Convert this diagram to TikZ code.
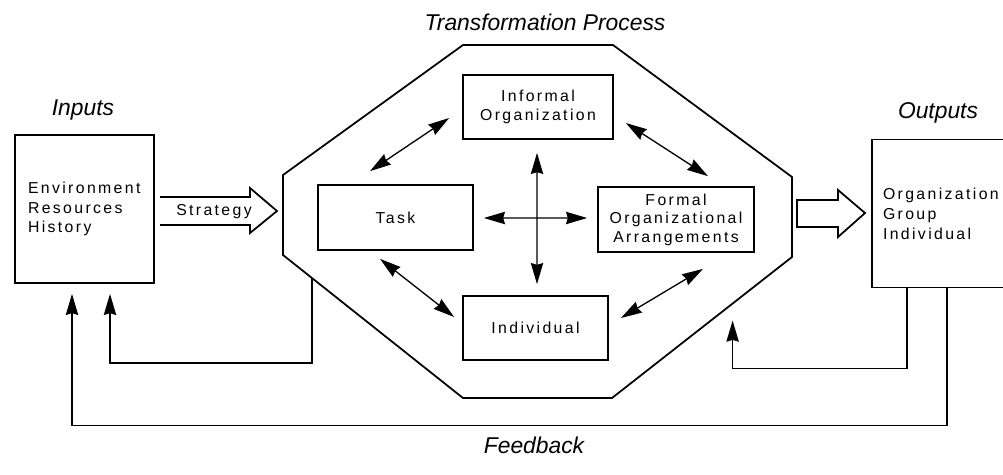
\documentclass[tikz,border=0pt]{standalone}
\usepackage{fontspec}
\setmainfont{Liberation Sans}
\newfontfamily\BoiteFont{Liberation Sans}[LetterSpace=15]
\usetikzlibrary{calc}
\usetikzlibrary{arrows.meta}

\begin{document}
\begin{tikzpicture}[x=0.02cm,y=-0.02cm,
    boite/.style={draw,line width=1pt,inner sep=0pt,align=center,
        font={\BoiteFont\fontsize{9}{10.5}\selectfont}},
    grande/.style={boite,minimum width=2.9cm,minimum height=2.96cm,align=left,
        font={\BoiteFont\fontsize{9}{11.3}\selectfont}},
    titre/.style={font={\itshape\fontsize{13}{15}\selectfont}},
    pointe/.tip={Stealth[length=12pt,width=7pt,inset=1pt]},
    fleche/.style={line width=0.75pt,pointe-pointe},
    retour/.style={line width=0.9pt,-pointe},
    creuse/.style={line width=1pt,line join=miter}]

\useasboundingbox (0,0) rectangle (1003,474);
\clip (0,0) rectangle (1003,474);

\def \Trait {1pt}

% octogone du processus
\coordinate (O1) at (463,45);
\coordinate (O2) at (613,45);
\coordinate (O3) at (792,177);
\coordinate (O4) at (792,257);
\coordinate (O5) at (612,398);
\coordinate (O6) at (463,398);
\coordinate (O7) at (283,255);
\coordinate (O8) at (283,175);
\draw[line width=\Trait] (O1)--(O2)--(O3)--(O4)--(O5)--(O6)--(O7)--(O8)--cycle;

% entrees et sorties
\node[grande,minimum width=2.78cm,text width=2.26cm] (inputs) at (84.5,209) {Environment\\Resources\\History};
\node[grande,minimum width=2.96cm,text width=2.52cm] (outputs) at (946,213.5) {Organization\\Group\\Individual};

% les quatre composantes
\node[boite,minimum width=3cm,minimum height=1.28cm] (informal) at (538,107) {Informal\\Organization};
\node[boite,minimum width=3.1cm,minimum height=1.3cm] (task) at (395.5,217.5) {Task};
\node[boite,minimum width=3.12cm,minimum height=1.3cm] (formal) at (676,219.5) {Formal\\Organizational\\Arrangements};
\node[boite,minimum width=2.9cm,minimum height=1.28cm] (individual) at (535.5,328) {Individual};

% relations
\draw[fleche] ($(task.north)+(-25.5,-13)$) -- ($(informal.west)+(-13,11)$);
\draw[fleche] ($(informal.east)+(12,16)$) -- ($(formal.north)+(32,-10)$);
\draw[fleche] ($(task.south)+(-15.5,8)$) -- ($(individual.west)+(-8,-11)$);
\draw[fleche] ($(formal.south)+(27,16)$) -- ($(individual.east)+(12,-10)$);
\draw[fleche] ($(informal.south)+(-1,13)$) -- ($(individual.north)+(1.5,-11)$);
\draw[fleche] ($(task.east)+(10,0.5)$) -- ($(formal.west)+(-10,-1.5)$);

% fleches creuses
\draw[creuse] (160,197)--(250,197)--(250,188)--(277,211)--(250,233)--(250,225)--(160,225);
\node[font={\BoiteFont\fontsize{9}{10}\selectfont}] (strategy) at (214,212) {Strategy};
\draw[creuse] (797,200)--(838,200)--(838,190)--(865,213)--(838,237)--(838,227)--(797,227)--cycle;

% retours
\coordinate (fbC) at ($(O4)!0.33!(O5)+(0,17)$);
\draw[retour] ($(O7)!0.16!(O6)$) -- ++(0,85) -| ($(inputs.south)+(25.5,10)$);
\draw[retour] ($(outputs.south west)+(76,0)$) -- ++(0,137) -| ($(inputs.south)+(-12.5,10)$);
\draw[retour] ($(outputs.south west)+(36,0)$) -- ++(0,80) -| (fbC);

% titres
\node[titre] (tin) at (83,110) {Inputs};
\node[titre] (tout) at (938,113) {Outputs};
\node[titre] (tproc) at (545,22) {Transformation Process};
\node[titre] (tfeed) at (534,445) {Feedback};

\end{tikzpicture}
\end{document}
